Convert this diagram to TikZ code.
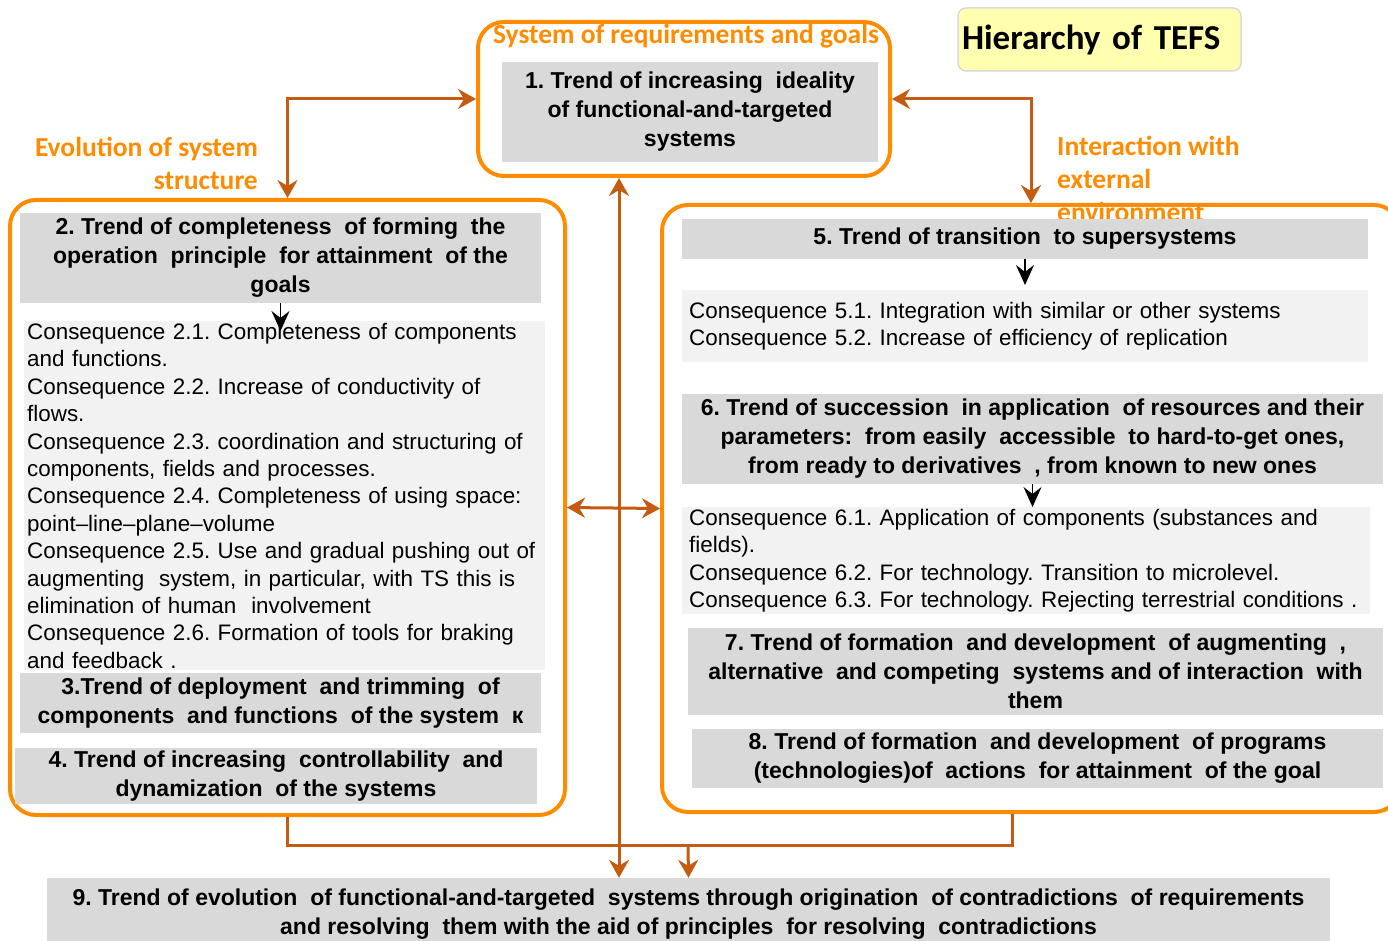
\documentclass[tikz,border=0pt]{standalone}
\usepackage{fontspec}
\setmainfont{Liberation Sans}
\newfontfamily\labelfont{Carlito}
\usetikzlibrary{arrows.meta}
\frenchspacing

\definecolor{frameorange}{RGB}{255,140,0}
\definecolor{arrowbrown}{RGB}{197,90,17}
\definecolor{trendgray}{RGB}{217,217,217}
\definecolor{conslight}{RGB}{242,242,242}
\definecolor{titleyellow}{RGB}{255,255,175}

\tikzset{
    frame/.style={draw=frameorange, line width=4pt, rounded corners=26pt, inner sep=0pt},
    trend/.style={fill=trendgray, align=center, inner sep=0pt, font=\fontsize{23}{29}\selectfont\bfseries},
    conseq/.style={fill=conslight, align=left, anchor=north west, inner xsep=7pt, inner ysep=2pt, font=\fontsize{22.4}{27.4}\selectfont},
    grouplabel/.style={text=frameorange, inner sep=0pt, font=\labelfont\fontsize{27.5}{33}\selectfont\bfseries},
    link/.style={draw=arrowbrown, line width=3pt},
    drop/.style={draw=black, line width=1.6pt, -{Stealth[length=20pt, width=18pt, inset=7pt]}}
}

\begin{document}
\begin{tikzpicture}[x=1pt, y=-1pt]
    \useasboundingbox (0,0) rectangle (1388,941);

    % frames
    \node[frame, minimum width=412, minimum height=154] (reqframe) at (684,99) {};
    \node[frame, minimum width=555, minimum height=615] (leftframe) at (287.5,507.5) {};
    \node[frame, minimum width=738, minimum height=607] (rightframe) at (1031,508.5) {};

    % title
    \node[draw=black!15, line width=1.5pt, fill=titleyellow, rounded corners=8pt, minimum width=283, minimum height=63,
          inner xsep=4pt, text width=275, align=left, font=\labelfont\fontsize{35}{38}\selectfont\bfseries] (title) at (1099.5,39.5) {Hierarchy of TEFS};

    % group labels
    \node[grouplabel] (reqlabel) at (686,36) {System of requirements and goals};
    \node[grouplabel, align=right, anchor=east] (evolabel) at (258,163) {Evolution of system\\structure};
    \node[grouplabel, align=left, anchor=west] (interlabel) at (1057,179) {Interaction with\\external\\environment};

    % top trend
    \node[trend, minimum width=376, minimum height=100] (b1) at (690,112)
        {1. Trend of increasing \ ideality\\of functional-and-targeted\\systems};

    % left group
    \node[trend, minimum width=521, minimum height=90] (b2) at (280.5,258)
        {2. Trend of completeness \ of forming \ the\\operation \ principle \ for attainment \ of the\\goals};
    \node[conseq, inner xsep=3pt, text width=515] (c2) at (24,321)
        {Consequence 2.1. Completeness of components\\
         and functions.\\
         Consequence 2.2. Increase of conductivity of\\
         flows.\\
         Consequence 2.3. coordination and structuring of\\
         components, fields and processes.\\
         Consequence 2.4. Completeness of using space:\\
         point--line--plane--volume\\
         Consequence 2.5. Use and gradual pushing out of\\
         augmenting \ system, in particular, with TS this is\\
         elimination of human \ involvement\\
         Consequence 2.6. Formation of tools for braking\\
         and feedback .};
    \node[trend, minimum width=521, minimum height=60] (b3) at (280.5,703)
        {3.Trend of deployment \ and trimming \ of\\components \ and functions \ of the system \ к};
    \node[trend, minimum width=522, minimum height=56] (b4) at (276,776)
        {4. Trend of increasing \ controllability \ and\\dynamization \ of the systems};

    % right group
    \node[trend, minimum width=686, minimum height=40] (b5) at (1025,239)
        {5. Trend of transition \ to supersystems};
    \node[conseq, text width=672, inner ysep=12pt] (c5) at (682,290)
        {Consequence 5.1. Integration with similar or other systems\\
         Consequence 5.2. Increase of efficiency of replication};
    \node[trend, minimum width=701, minimum height=90] (b6) at (1032.5,439)
        {6. Trend of succession \ in application \ of resources and their\\parameters: \ from easily \ accessible \ to hard-to-get ones,\\from ready to derivatives \ , from known to new ones};
    \node[conseq, text width=674] (c6) at (682,507)
        {Consequence 6.1. Application of components (substances and\\
         fields).\\
         Consequence 6.2. For technology. Transition to microlevel.\\
         Consequence 6.3. For technology. Rejecting terrestrial conditions .};
    \node[trend, minimum width=695, minimum height=87] (b7) at (1035.5,671)
        {7. Trend of formation \ and development \ of augmenting \ ,\\alternative \ and competing \ systems and of interaction \ with\\them};
    \node[trend, minimum width=691, minimum height=59] (b8) at (1037.5,758)
        {8. Trend of formation \ and development \ of programs\\(technologies)of \ actions \ for attainment \ of the goal};

    % bottom trend
    \node[trend, minimum width=1283, minimum height=72] (b9) at (688.5,914)
        {9. Trend of evolution \ of functional-and-targeted \ systems through origination \ of contradictions \ of requirements\\and resolving \ them with the aid of principles \ for resolving \ contradictions};

    % helper points
    \coordinate (spine) at (619,0);
    \coordinate (joint) at (688,845);

    % links between groups
    \draw[link, {Stealth[length=18pt, width=20pt, inset=6pt]}-{Stealth[length=18pt, width=20pt, inset=6pt]}] (leftframe.north) |- (reqframe.west);
    \draw[link, {Stealth[length=18pt, width=20pt, inset=6pt]}-{Stealth[length=18pt, width=20pt, inset=6pt]}] (rightframe.north) |- (reqframe.east);
    \draw[link, {Stealth[length=18pt, width=20pt, inset=6pt]}-{Stealth[length=18pt, width=20pt, inset=6pt]}] (reqframe.south -| spine) -- (b9.north -| spine);
    \draw[link, {Stealth[length=18pt, width=20pt, inset=6pt]}-{Stealth[length=18pt, width=20pt, inset=6pt]}] (leftframe.east) -- (rightframe.west);
    \draw[link] (leftframe.south) |- (joint) -| ([xshift=-19pt]rightframe.south);
    \draw[link, -{Stealth[length=18pt, width=20pt, inset=6pt]}] (joint) -- (b9.north);

    % consequences
    \draw[drop] (b2.south) -- ([yshift=-10pt]b2.south |- c2.north);
    \draw[drop] (b5.south) -- ([yshift=5pt]b5.south |- c5.north);
    \draw[drop] (b6.south) -- (b6.south |- c6.north);
\end{tikzpicture}
\end{document}
